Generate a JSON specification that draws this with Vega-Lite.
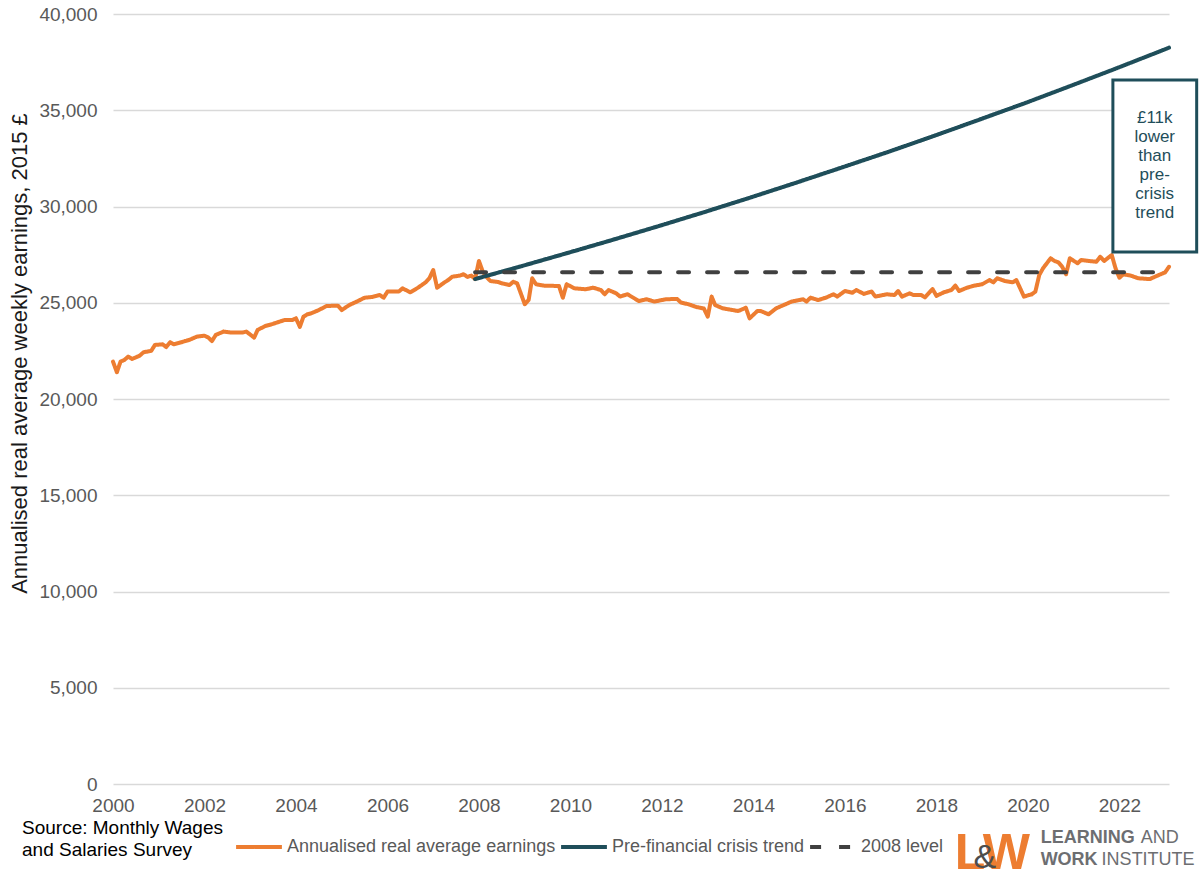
{
  "$schema": "https://vega.github.io/schema/vega-lite/v6.json",
  "width": 1056,
  "height": 770,
  "autosize": {"type": "none"},
  "padding": {"left": 113, "top": 14, "right": 31, "bottom": 88},
  "background": "white",
  "config": {
    "font": "Liberation Sans",
    "view": {"stroke": null},
    "axis": {
      "labelFont": "Liberation Sans",
      "labelColor": "#595959",
      "labelFontSize": 19,
      "domain": false,
      "ticks": false,
      "gridColor": "#d9d9d9",
      "gridWidth": 1.5
    },
    "legend": {
      "orient": "none",
      "legendX": -91,
      "legendY": 808,
      "direction": "horizontal",
      "padding": 0,
      "titleOrient": "left",
      "titleAnchor": "middle",
      "titleBaseline": "middle",
      "titleFont": "Liberation Sans",
      "titleFontSize": 19,
      "titleFontWeight": "normal",
      "titleColor": "#000000",
      "titleLineHeight": 22,
      "titleLimit": 400,
      "titlePadding": 11,
      "symbolType": "stroke",
      "symbolSize": 2100,
      "symbolStrokeWidth": 4,
      "labelFont": "Liberation Sans",
      "labelFontSize": 18,
      "labelColor": "#595959",
      "labelLimit": 400,
      "labelOffset": 3,
      "columnPadding": -3
    }
  },
  "datasets": {
    "lines": [
      {"date": "2000-01", "series": "Annualised real average earnings", "value": 21940},
      {"date": "2000-02", "series": "Annualised real average earnings", "value": 21390},
      {"date": "2000-03", "series": "Annualised real average earnings", "value": 21940},
      {"date": "2000-04", "series": "Annualised real average earnings", "value": 22030},
      {"date": "2000-05", "series": "Annualised real average earnings", "value": 22200},
      {"date": "2000-06", "series": "Annualised real average earnings", "value": 22080},
      {"date": "2000-08", "series": "Annualised real average earnings", "value": 22250},
      {"date": "2000-09", "series": "Annualised real average earnings", "value": 22430},
      {"date": "2000-11", "series": "Annualised real average earnings", "value": 22500},
      {"date": "2000-12", "series": "Annualised real average earnings", "value": 22810},
      {"date": "2001-02", "series": "Annualised real average earnings", "value": 22840},
      {"date": "2001-03", "series": "Annualised real average earnings", "value": 22700},
      {"date": "2001-04", "series": "Annualised real average earnings", "value": 22950},
      {"date": "2001-05", "series": "Annualised real average earnings", "value": 22840},
      {"date": "2001-07", "series": "Annualised real average earnings", "value": 22950},
      {"date": "2001-09", "series": "Annualised real average earnings", "value": 23070},
      {"date": "2001-11", "series": "Annualised real average earnings", "value": 23240},
      {"date": "2002-01", "series": "Annualised real average earnings", "value": 23290},
      {"date": "2002-02", "series": "Annualised real average earnings", "value": 23190},
      {"date": "2002-03", "series": "Annualised real average earnings", "value": 23010},
      {"date": "2002-04", "series": "Annualised real average earnings", "value": 23330},
      {"date": "2002-06", "series": "Annualised real average earnings", "value": 23500},
      {"date": "2002-08", "series": "Annualised real average earnings", "value": 23450},
      {"date": "2002-11", "series": "Annualised real average earnings", "value": 23450},
      {"date": "2002-12", "series": "Annualised real average earnings", "value": 23500},
      {"date": "2003-02", "series": "Annualised real average earnings", "value": 23190},
      {"date": "2003-03", "series": "Annualised real average earnings", "value": 23590},
      {"date": "2003-05", "series": "Annualised real average earnings", "value": 23790},
      {"date": "2003-07", "series": "Annualised real average earnings", "value": 23900},
      {"date": "2003-10", "series": "Annualised real average earnings", "value": 24100},
      {"date": "2003-12", "series": "Annualised real average earnings", "value": 24100},
      {"date": "2004-01", "series": "Annualised real average earnings", "value": 24190},
      {"date": "2004-02", "series": "Annualised real average earnings", "value": 23750},
      {"date": "2004-03", "series": "Annualised real average earnings", "value": 24280},
      {"date": "2004-04", "series": "Annualised real average earnings", "value": 24400},
      {"date": "2004-05", "series": "Annualised real average earnings", "value": 24450},
      {"date": "2004-07", "series": "Annualised real average earnings", "value": 24620},
      {"date": "2004-09", "series": "Annualised real average earnings", "value": 24830},
      {"date": "2004-12", "series": "Annualised real average earnings", "value": 24850},
      {"date": "2005-01", "series": "Annualised real average earnings", "value": 24620},
      {"date": "2005-03", "series": "Annualised real average earnings", "value": 24880},
      {"date": "2005-05", "series": "Annualised real average earnings", "value": 25060},
      {"date": "2005-07", "series": "Annualised real average earnings", "value": 25260},
      {"date": "2005-09", "series": "Annualised real average earnings", "value": 25300},
      {"date": "2005-11", "series": "Annualised real average earnings", "value": 25400},
      {"date": "2005-12", "series": "Annualised real average earnings", "value": 25260},
      {"date": "2006-01", "series": "Annualised real average earnings", "value": 25580},
      {"date": "2006-04", "series": "Annualised real average earnings", "value": 25580},
      {"date": "2006-05", "series": "Annualised real average earnings", "value": 25750},
      {"date": "2006-07", "series": "Annualised real average earnings", "value": 25540},
      {"date": "2006-09", "series": "Annualised real average earnings", "value": 25780},
      {"date": "2006-11", "series": "Annualised real average earnings", "value": 26060},
      {"date": "2006-12", "series": "Annualised real average earnings", "value": 26270},
      {"date": "2007-01", "series": "Annualised real average earnings", "value": 26700},
      {"date": "2007-02", "series": "Annualised real average earnings", "value": 25780},
      {"date": "2007-04", "series": "Annualised real average earnings", "value": 26060},
      {"date": "2007-05", "series": "Annualised real average earnings", "value": 26180},
      {"date": "2007-06", "series": "Annualised real average earnings", "value": 26350},
      {"date": "2007-08", "series": "Annualised real average earnings", "value": 26410},
      {"date": "2007-09", "series": "Annualised real average earnings", "value": 26480},
      {"date": "2007-10", "series": "Annualised real average earnings", "value": 26340},
      {"date": "2007-11", "series": "Annualised real average earnings", "value": 26410},
      {"date": "2007-12", "series": "Annualised real average earnings", "value": 26230},
      {"date": "2008-01", "series": "Annualised real average earnings", "value": 27170},
      {"date": "2008-02", "series": "Annualised real average earnings", "value": 26610},
      {"date": "2008-03", "series": "Annualised real average earnings", "value": 26350},
      {"date": "2008-04", "series": "Annualised real average earnings", "value": 26130},
      {"date": "2008-06", "series": "Annualised real average earnings", "value": 26080},
      {"date": "2008-07", "series": "Annualised real average earnings", "value": 26010},
      {"date": "2008-09", "series": "Annualised real average earnings", "value": 25920},
      {"date": "2008-10", "series": "Annualised real average earnings", "value": 26090},
      {"date": "2008-11", "series": "Annualised real average earnings", "value": 26010},
      {"date": "2009-01", "series": "Annualised real average earnings", "value": 24920},
      {"date": "2009-02", "series": "Annualised real average earnings", "value": 25150},
      {"date": "2009-03", "series": "Annualised real average earnings", "value": 26270},
      {"date": "2009-04", "series": "Annualised real average earnings", "value": 25960},
      {"date": "2009-06", "series": "Annualised real average earnings", "value": 25890},
      {"date": "2009-10", "series": "Annualised real average earnings", "value": 25870},
      {"date": "2009-11", "series": "Annualised real average earnings", "value": 25260},
      {"date": "2009-12", "series": "Annualised real average earnings", "value": 25960},
      {"date": "2010-02", "series": "Annualised real average earnings", "value": 25750},
      {"date": "2010-05", "series": "Annualised real average earnings", "value": 25700},
      {"date": "2010-07", "series": "Annualised real average earnings", "value": 25780},
      {"date": "2010-09", "series": "Annualised real average earnings", "value": 25660},
      {"date": "2010-10", "series": "Annualised real average earnings", "value": 25440},
      {"date": "2010-11", "series": "Annualised real average earnings", "value": 25660},
      {"date": "2011-01", "series": "Annualised real average earnings", "value": 25490},
      {"date": "2011-02", "series": "Annualised real average earnings", "value": 25320},
      {"date": "2011-04", "series": "Annualised real average earnings", "value": 25440},
      {"date": "2011-07", "series": "Annualised real average earnings", "value": 25090},
      {"date": "2011-09", "series": "Annualised real average earnings", "value": 25180},
      {"date": "2011-11", "series": "Annualised real average earnings", "value": 25060},
      {"date": "2012-02", "series": "Annualised real average earnings", "value": 25180},
      {"date": "2012-05", "series": "Annualised real average earnings", "value": 25200},
      {"date": "2012-06", "series": "Annualised real average earnings", "value": 25010},
      {"date": "2012-08", "series": "Annualised real average earnings", "value": 24920},
      {"date": "2012-10", "series": "Annualised real average earnings", "value": 24780},
      {"date": "2012-11", "series": "Annualised real average earnings", "value": 24740},
      {"date": "2012-12", "series": "Annualised real average earnings", "value": 24700},
      {"date": "2013-01", "series": "Annualised real average earnings", "value": 24280},
      {"date": "2013-02", "series": "Annualised real average earnings", "value": 25320},
      {"date": "2013-03", "series": "Annualised real average earnings", "value": 24880},
      {"date": "2013-05", "series": "Annualised real average earnings", "value": 24710},
      {"date": "2013-09", "series": "Annualised real average earnings", "value": 24570},
      {"date": "2013-11", "series": "Annualised real average earnings", "value": 24740},
      {"date": "2013-12", "series": "Annualised real average earnings", "value": 24190},
      {"date": "2014-02", "series": "Annualised real average earnings", "value": 24570},
      {"date": "2014-03", "series": "Annualised real average earnings", "value": 24570},
      {"date": "2014-05", "series": "Annualised real average earnings", "value": 24400},
      {"date": "2014-07", "series": "Annualised real average earnings", "value": 24710},
      {"date": "2014-08", "series": "Annualised real average earnings", "value": 24800},
      {"date": "2014-10", "series": "Annualised real average earnings", "value": 24970},
      {"date": "2014-11", "series": "Annualised real average earnings", "value": 25060},
      {"date": "2015-02", "series": "Annualised real average earnings", "value": 25180},
      {"date": "2015-03", "series": "Annualised real average earnings", "value": 25060},
      {"date": "2015-04", "series": "Annualised real average earnings", "value": 25260},
      {"date": "2015-06", "series": "Annualised real average earnings", "value": 25140},
      {"date": "2015-08", "series": "Annualised real average earnings", "value": 25260},
      {"date": "2015-10", "series": "Annualised real average earnings", "value": 25440},
      {"date": "2015-11", "series": "Annualised real average earnings", "value": 25320},
      {"date": "2016-01", "series": "Annualised real average earnings", "value": 25610},
      {"date": "2016-03", "series": "Annualised real average earnings", "value": 25520},
      {"date": "2016-04", "series": "Annualised real average earnings", "value": 25660},
      {"date": "2016-06", "series": "Annualised real average earnings", "value": 25460},
      {"date": "2016-08", "series": "Annualised real average earnings", "value": 25580},
      {"date": "2016-09", "series": "Annualised real average earnings", "value": 25320},
      {"date": "2016-12", "series": "Annualised real average earnings", "value": 25440},
      {"date": "2017-02", "series": "Annualised real average earnings", "value": 25400},
      {"date": "2017-03", "series": "Annualised real average earnings", "value": 25610},
      {"date": "2017-04", "series": "Annualised real average earnings", "value": 25320},
      {"date": "2017-06", "series": "Annualised real average earnings", "value": 25490},
      {"date": "2017-07", "series": "Annualised real average earnings", "value": 25400},
      {"date": "2017-09", "series": "Annualised real average earnings", "value": 25400},
      {"date": "2017-10", "series": "Annualised real average earnings", "value": 25280},
      {"date": "2017-12", "series": "Annualised real average earnings", "value": 25710},
      {"date": "2018-01", "series": "Annualised real average earnings", "value": 25360},
      {"date": "2018-03", "series": "Annualised real average earnings", "value": 25540},
      {"date": "2018-05", "series": "Annualised real average earnings", "value": 25660},
      {"date": "2018-06", "series": "Annualised real average earnings", "value": 25890},
      {"date": "2018-07", "series": "Annualised real average earnings", "value": 25610},
      {"date": "2018-09", "series": "Annualised real average earnings", "value": 25780},
      {"date": "2018-11", "series": "Annualised real average earnings", "value": 25890},
      {"date": "2019-01", "series": "Annualised real average earnings", "value": 25960},
      {"date": "2019-03", "series": "Annualised real average earnings", "value": 26180},
      {"date": "2019-04", "series": "Annualised real average earnings", "value": 26060},
      {"date": "2019-05", "series": "Annualised real average earnings", "value": 26270},
      {"date": "2019-07", "series": "Annualised real average earnings", "value": 26130},
      {"date": "2019-09", "series": "Annualised real average earnings", "value": 26060},
      {"date": "2019-10", "series": "Annualised real average earnings", "value": 26180},
      {"date": "2019-12", "series": "Annualised real average earnings", "value": 25320},
      {"date": "2020-02", "series": "Annualised real average earnings", "value": 25440},
      {"date": "2020-03", "series": "Annualised real average earnings", "value": 25580},
      {"date": "2020-04", "series": "Annualised real average earnings", "value": 26440},
      {"date": "2020-05", "series": "Annualised real average earnings", "value": 26790},
      {"date": "2020-07", "series": "Annualised real average earnings", "value": 27310},
      {"date": "2020-08", "series": "Annualised real average earnings", "value": 27170},
      {"date": "2020-09", "series": "Annualised real average earnings", "value": 27100},
      {"date": "2020-10", "series": "Annualised real average earnings", "value": 26870},
      {"date": "2020-11", "series": "Annualised real average earnings", "value": 26480},
      {"date": "2020-12", "series": "Annualised real average earnings", "value": 27310},
      {"date": "2021-02", "series": "Annualised real average earnings", "value": 27050},
      {"date": "2021-03", "series": "Annualised real average earnings", "value": 27220},
      {"date": "2021-05", "series": "Annualised real average earnings", "value": 27170},
      {"date": "2021-07", "series": "Annualised real average earnings", "value": 27130},
      {"date": "2021-08", "series": "Annualised real average earnings", "value": 27390},
      {"date": "2021-09", "series": "Annualised real average earnings", "value": 27170},
      {"date": "2021-11", "series": "Annualised real average earnings", "value": 27480},
      {"date": "2021-12", "series": "Annualised real average earnings", "value": 26790},
      {"date": "2022-01", "series": "Annualised real average earnings", "value": 26300},
      {"date": "2022-02", "series": "Annualised real average earnings", "value": 26480},
      {"date": "2022-04", "series": "Annualised real average earnings", "value": 26410},
      {"date": "2022-06", "series": "Annualised real average earnings", "value": 26270},
      {"date": "2022-09", "series": "Annualised real average earnings", "value": 26230},
      {"date": "2022-11", "series": "Annualised real average earnings", "value": 26410},
      {"date": "2023-01", "series": "Annualised real average earnings", "value": 26580},
      {"date": "2023-02", "series": "Annualised real average earnings", "value": 26870},
      {"date": "2007-12", "series": "Pre-financial crisis trend", "value": 26230},
      {"date": "2008-12", "series": "Pre-financial crisis trend", "value": 26890},
      {"date": "2009-12", "series": "Pre-financial crisis trend", "value": 27570},
      {"date": "2010-12", "series": "Pre-financial crisis trend", "value": 28260},
      {"date": "2011-12", "series": "Pre-financial crisis trend", "value": 28970},
      {"date": "2012-12", "series": "Pre-financial crisis trend", "value": 29700},
      {"date": "2013-12", "series": "Pre-financial crisis trend", "value": 30450},
      {"date": "2014-12", "series": "Pre-financial crisis trend", "value": 31220},
      {"date": "2015-12", "series": "Pre-financial crisis trend", "value": 32010},
      {"date": "2016-12", "series": "Pre-financial crisis trend", "value": 32810},
      {"date": "2017-12", "series": "Pre-financial crisis trend", "value": 33640},
      {"date": "2018-12", "series": "Pre-financial crisis trend", "value": 34490},
      {"date": "2019-12", "series": "Pre-financial crisis trend", "value": 35350},
      {"date": "2020-12", "series": "Pre-financial crisis trend", "value": 36250},
      {"date": "2021-12", "series": "Pre-financial crisis trend", "value": 37160},
      {"date": "2022-12", "series": "Pre-financial crisis trend", "value": 38090},
      {"date": "2023-02", "series": "Pre-financial crisis trend", "value": 38250},
      {"date": "2007-12", "series": "2008 level", "value": 26580},
      {"date": "2023-02", "series": "2008 level", "value": 26580}
    ],
    "notes": [
      {"from": "2021-11-10", "to": "2023-09-10", "mid": "2022-10-10", "top": 36570, "bottom": 27640, "firstLine": 34600, "note": "£11k\nlower\nthan\npre-\ncrisis\ntrend"}
    ]
  },
  "layer": [
    {
      "data": {"name": "lines"},
      "encoding": {
        "x": {
          "field": "date",
          "type": "temporal",
          "scale": {"domain": [{"year": 2000, "month": 1, "date": 1}, {"year": 2023, "month": 2, "date": 1}]},
          "axis": {"title": null, "grid": false, "format": "%Y", "tickCount": {"interval": "year", "step": 2}, "labelPadding": 12, "labelFlush": false}
        },
        "y": {
          "field": "value",
          "type": "quantitative",
          "scale": {"domain": [0, 40000]},
          "axis": {
            "title": "Annualised real average weekly earnings, 2015 £",
            "titleFont": "Liberation Sans",
            "titleFontSize": 22,
            "titleFontWeight": "normal",
            "titleColor": "#1a1a1a",
            "titlePadding": 7,
            "titleY": 339,
            "values": [0, 5000, 10000, 15000, 20000, 25000, 30000, 35000, 40000],
            "format": ",d",
            "labelPadding": 16
          }
        },
        "color": {
          "field": "series",
          "type": "nominal",
          "scale": {
            "domain": ["Annualised real average earnings", "Pre-financial crisis trend", "2008 level"],
            "range": ["#ED7D31", "#1F4E5A", "#404040"]
          },
          "legend": {"title": ["Source: Monthly Wages", "and Salaries Survey"]}
        },
        "strokeDash": {
          "field": "series",
          "type": "nominal",
          "scale": {
            "domain": ["Annualised real average earnings", "Pre-financial crisis trend", "2008 level"],
            "range": [[1, 0], [1, 0], [11, 18]]
          },
          "legend": {"title": ["Source: Monthly Wages", "and Salaries Survey"]}
        }
      },
      "layer": [
        {
          "transform": [{"filter": "datum.series === 'Annualised real average earnings'"}],
          "mark": {"type": "line", "strokeWidth": 4, "strokeJoin": "round", "strokeCap": "round"}
        },
        {
          "transform": [{"filter": "datum.series === 'Pre-financial crisis trend'"}],
          "mark": {"type": "line", "strokeWidth": 4, "strokeCap": "round"}
        },
        {
          "transform": [{"filter": "datum.series === '2008 level'"}],
          "mark": {"type": "line", "strokeWidth": 4, "strokeCap": "round"}
        }
      ]
    },
    {
      "data": {"name": "notes"},
      "mark": {"type": "rect", "fill": "white", "stroke": "#1F4E5A", "strokeWidth": 3},
      "encoding": {
        "x": {"field": "from", "type": "temporal"},
        "x2": {"field": "to"},
        "y": {"field": "top", "type": "quantitative"},
        "y2": {"field": "bottom"}
      }
    },
    {
      "data": {"name": "notes"},
      "mark": {"type": "text", "lineBreak": "\n", "fontSize": 17, "lineHeight": 19, "color": "#1F4E5A", "align": "center", "baseline": "middle"},
      "encoding": {
        "x": {"field": "mid", "type": "temporal"},
        "y": {"field": "firstLine", "type": "quantitative"},
        "text": {"field": "note"}
      }
    },
    {
      "data": {"values": [{}]},
      "mark": {"type": "text", "text": "L", "fontSize": 50, "fontWeight": "bold", "color": "#ED7D31", "align": "left", "baseline": "alphabetic"},
      "encoding": {
        "x": {"datum": {"year": 2018, "month": 5, "date": 27}, "type": "temporal"},
        "y": {"datum": -4420, "type": "quantitative"}
      }
    },
    {
      "data": {"values": [{}]},
      "mark": {"type": "text", "text": "W", "fontSize": 50, "fontWeight": "bold", "color": "#ED7D31", "align": "right", "baseline": "alphabetic"},
      "encoding": {
        "x": {"datum": {"year": 2020, "month": 1, "date": 17}, "type": "temporal"},
        "y": {"datum": -4420, "type": "quantitative"}
      }
    },
    {
      "data": {"values": [{}]},
      "mark": {"type": "text", "text": "&", "fontSize": 34, "color": "#4d4d4d", "align": "center", "baseline": "alphabetic"},
      "encoding": {
        "x": {"datum": {"year": 2019, "month": 1, "date": 22}, "type": "temporal"},
        "y": {"datum": -4350, "type": "quantitative"}
      }
    },
    {
      "data": {"values": [{}]},
      "mark": {"type": "text", "text": "LEARNING", "fontSize": 18, "fontWeight": "bold", "color": "#6d6e71", "align": "left", "baseline": "alphabetic"},
      "encoding": {
        "x": {"datum": {"year": 2020, "month": 4, "date": 12}, "type": "temporal"},
        "y": {"datum": -3070, "type": "quantitative"}
      }
    },
    {
      "data": {"values": [{}]},
      "mark": {"type": "text", "text": "AND", "fontSize": 18, "color": "#6d6e71", "align": "left", "baseline": "alphabetic"},
      "encoding": {
        "x": {"datum": {"year": 2022, "month": 6, "date": 20}, "type": "temporal"},
        "y": {"datum": -3070, "type": "quantitative"}
      }
    },
    {
      "data": {"values": [{}]},
      "mark": {"type": "text", "text": "WORK", "fontSize": 18, "fontWeight": "bold", "color": "#6d6e71", "align": "left", "baseline": "alphabetic"},
      "encoding": {
        "x": {"datum": {"year": 2020, "month": 4, "date": 12}, "type": "temporal"},
        "y": {"datum": -4220, "type": "quantitative"}
      }
    },
    {
      "data": {"values": [{}]},
      "mark": {"type": "text", "text": "INSTITUTE", "fontSize": 18, "color": "#6d6e71", "align": "left", "baseline": "alphabetic"},
      "encoding": {
        "x": {"datum": {"year": 2021, "month": 8, "date": 12}, "type": "temporal"},
        "y": {"datum": -4220, "type": "quantitative"}
      }
    }
  ]
}
